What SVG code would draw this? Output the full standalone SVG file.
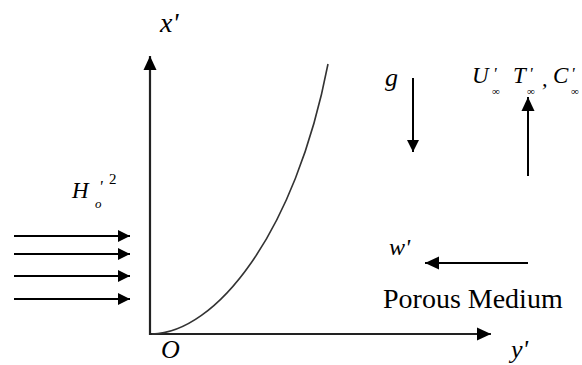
<svg xmlns="http://www.w3.org/2000/svg" width="582" height="365" viewBox="0 0 582 365">
<defs>
<marker id="ah" markerUnits="userSpaceOnUse" markerWidth="15" markerHeight="14" refX="14" refY="7" orient="auto">
<path d="M0,0.5 L14,7 L0,13.5 z" fill="#000"/>
</marker>
<marker id="ahs" markerUnits="userSpaceOnUse" markerWidth="14" markerHeight="13" refX="12" refY="6.5" orient="auto">
<path d="M0,0.5 L12,6.5 L0,12.5 z" fill="#000"/>
</marker>
</defs>
<style>
.ln{stroke:#000;stroke-width:2;fill:none}
.ax{stroke:#222;stroke-width:2.2;fill:none}
.cv{stroke:#333;stroke-width:1.6;fill:none}
.t{font-family:'Liberation Serif','DejaVu Serif',serif;fill:#000}
.it{font-family:'Liberation Serif','DejaVu Serif',serif;font-style:italic;fill:#000}
.up{font-style:normal}
</style>
<rect width="582" height="365" fill="#fff"/>
<g id="connectors">
<line class="ax" x1="150" y1="335" x2="150" y2="56" marker-end="url(#ah)"/>
<line class="ax" x1="149" y1="334" x2="491" y2="334" marker-end="url(#ah)"/>
<line class="ln" x1="14" y1="236" x2="130" y2="236" marker-end="url(#ahs)"/>
<line class="ln" x1="14" y1="254" x2="130" y2="254" marker-end="url(#ahs)"/>
<line class="ln" x1="14" y1="276" x2="130" y2="276" marker-end="url(#ahs)"/>
<line class="ln" x1="14" y1="299" x2="130" y2="299" marker-end="url(#ahs)"/>
<line class="ln" x1="413" y1="78" x2="413" y2="152" marker-end="url(#ahs)"/>
<line class="ln" x1="528" y1="176" x2="528" y2="97" marker-end="url(#ah)"/>
<line class="ln" x1="528" y1="263" x2="425" y2="263" marker-end="url(#ah)"/>
</g>
<g id="curve">
<path class="cv" d="M152,334 C215,333 295,235 328,64"/>
</g>
<g id="label-x">
<text class="it" x="160" y="32" font-size="28">x'</text>
</g>
<g id="label-O">
<text class="it" x="161" y="358" font-size="26">O</text>
</g>
<g id="label-y">
<text class="it" x="511" y="358" font-size="26">y'</text>
</g>
<g id="label-g">
<text class="it" x="385" y="86" font-size="26">g</text>
</g>
<g id="label-w">
<text class="it" x="389" y="255" font-size="24">w'</text>
</g>
<g id="label-H">
<text class="it" x="72" y="198" font-size="23">H</text>
<text class="it" x="99" y="192" font-size="17">'</text>
<text class="it" x="95" y="208" font-size="13">o</text>
<text class="t" x="109" y="184" font-size="15">2</text>
</g>
<g id="label-UTC">
<text class="it" x="472" y="83" font-size="23">U</text>
<text class="it" x="493" y="79" font-size="17">'</text>
<text class="t" x="492" y="95" font-size="11">∞</text>
<text class="it" x="513" y="83" font-size="23">T</text>
<text class="it" x="529" y="79" font-size="17">'</text>
<text class="t" x="527" y="95" font-size="11">∞</text>
<text class="it" x="542" y="86" font-size="22">,</text>
<text class="it" x="553" y="83" font-size="23">C</text>
<text class="it" x="571" y="79" font-size="17">'</text>
<text class="t" x="571" y="95" font-size="11">∞</text>
</g>
<g id="label-porous">
<text class="t" x="383" y="308" font-size="28">Porous Medium</text>
</g>
</svg>
